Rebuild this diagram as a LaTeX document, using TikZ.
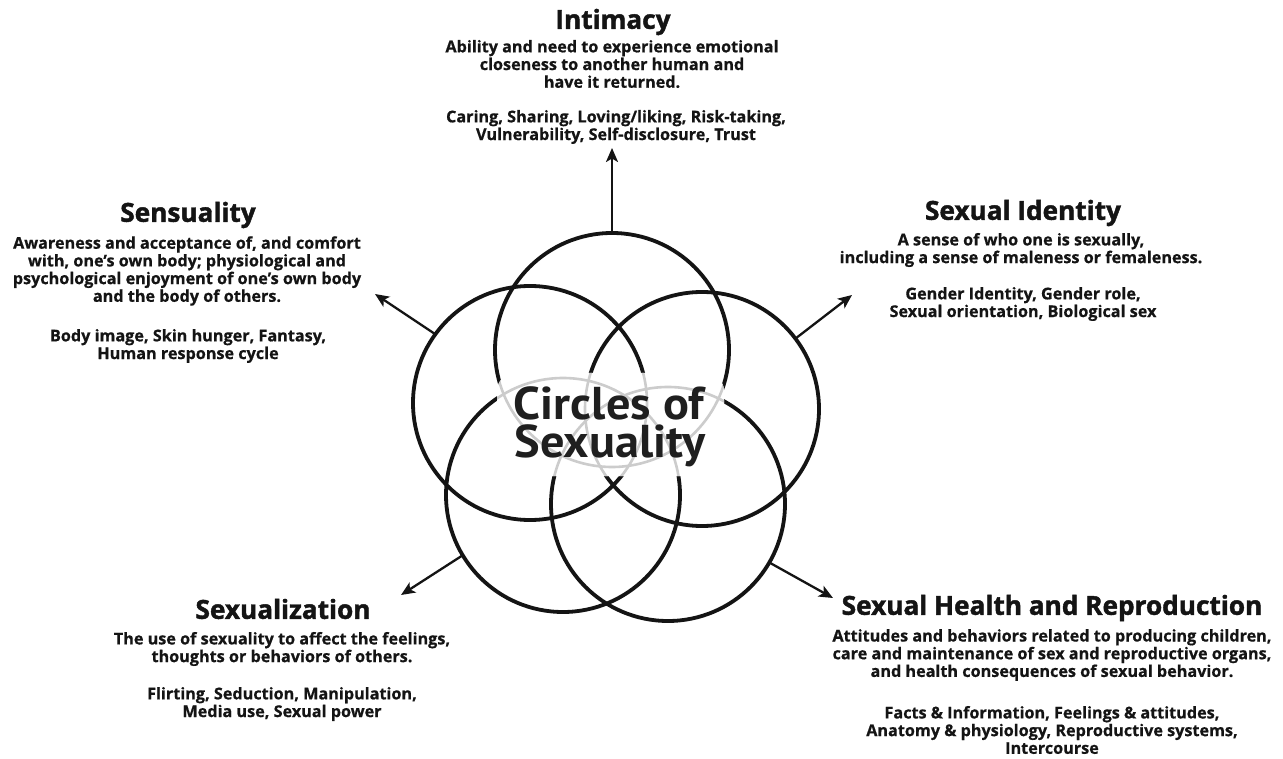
\documentclass[tikz,border=0pt]{standalone}
\usepackage{fontspec}
\setmainfont{PT Sans}[BoldFeatures={FakeStretch=1.05}]
\newfontfamily\labelfont{Open Sans}[BoldFeatures={FakeBold=0.6}]
\newfontfamily\titlefont{Open Sans}[BoldFeatures={FakeBold=1.6}]
\usetikzlibrary{arrows.meta}
\begin{document}
\begin{tikzpicture}[x=1pt,y=-1pt,
  ring/.style={circle, draw=black!92, line width=3.8pt, minimum size=234pt, inner sep=0pt, outer sep=0pt},
  ringgray/.style={circle, draw=black!20, line width=2.6pt, minimum size=234pt, inner sep=0pt, outer sep=0pt},
  arr/.style={line width=2.3pt, draw=black!92, -{Stealth[length=14pt,width=12pt,inset=3.5pt]}},
  ttl/.style={font=\titlefont\fontsize{26.2}{29}\selectfont\bfseries, inner sep=0pt, text=black!92},
  dsc/.style={font=\labelfont\fontsize{16.2}{17.7}\selectfont\bfseries, align=center, inner sep=0pt, text=black!92},
  big/.style={font=\fontsize{46}{37}\selectfont\bfseries, inner sep=0pt, text=black!88, anchor=base}
]
\useasboundingbox[fill=white] (0,0) rectangle (1283,759);

% circles
\node[ring] (top) at (612,350) {};
\node[ring] (lft) at (530,403) {};
\node[ring] (rgt) at (702,409) {};
\node[ring] (bl)  at (563,495) {};
\node[ring] (br)  at (668,504) {};

% halo behind the central title
\fill[white, rounded corners=18pt] (497,373) rectangle (724,476);
\begin{scope}
  \clip[rounded corners=18pt] (497,373) rectangle (724,476);
  \node[ringgray] (gtop) at (612,350) {};
  \node[ringgray] (glft) at (530,403) {};
  \node[ringgray] (grgt) at (702,409) {};
  \node[ringgray] (gbl)  at (563,495) {};
  \node[ringgray] (gbr)  at (668,504) {};
\end{scope}

\node[big] (c1) at (609,419) {Circles of};
\node[big] (c2) at (610,457) {Sexuality};

% arrow tips
\coordinate (tipI) at (612,148);
\coordinate (tipS) at (375,294);
\coordinate (tipD) at (852,295);
\coordinate (tipZ) at (401,595);
\coordinate (tipH) at (833,598);

\draw[arr] (top.90) -- (tipI);
\draw[arr] (lft.144) -- (tipS);
\draw[arr] (rgt.37.4) -- (tipD);
\draw[arr] (bl.211.6) -- (tipZ);
\draw[arr] (br.330.5) -- (tipH);

% Intimacy
\node[ttl] (iT) at (613,22) {Intimacy};
\node[dsc] (iD) at (612,64) {Ability and need to experience emotional\\closeness to another human and\\have it returned.};
\node[dsc] (iI) at (616,127) {Caring, Sharing, Loving/liking, Risk-taking,\\Vulnerability, Self-disclosure, Trust};

% Sensuality
\node[ttl] (sT) at (188,215) {Sensuality};
\node[dsc] (sD) at (187,271) {Awareness and acceptance of, and comfort\\with, one’s own body; physiological and\\psychological enjoyment of one’s own body\\and the body of others.};
\node[dsc] (sI) at (188,346) {Body image, Skin hunger, Fantasy,\\Human response cycle};

% Sexual Identity
\node[ttl] (dT) at (1023,213) {Sexual Identity};
\node[dsc] (dD) at (1021,250) {A sense of who one is sexually,\\including a sense of maleness or femaleness.};
\node[dsc] (dI) at (1023,304) {Gender Identity, Gender role,\\Sexual orientation, Biological sex};

% Sexualization
\node[ttl] (zT) at (283,609) {Sexualization};
\node[dsc] (zD) at (282,649) {The use of sexuality to affect the feelings,\\thoughts or behaviors of others.};
\node[dsc] (zI) at (282,704) {Flirting, Seduction, Manipulation,\\Media use, Sexual power};

% Sexual Health and Reproduction
\node[ttl] (hT) at (1052,608) {Sexual Health and Reproduction};
\node[dsc] (hD) at (1052,655) {Attitudes and behaviors related to producing children,\\care and maintenance of sex and reproductive organs,\\and health consequences of sexual behavior.};
\node[dsc] (hI) at (1052,730) {Facts \& Information, Feelings \& attitudes,\\Anatomy \& physiology, Reproductive systems,\\Intercourse};
\end{tikzpicture}
\end{document}
